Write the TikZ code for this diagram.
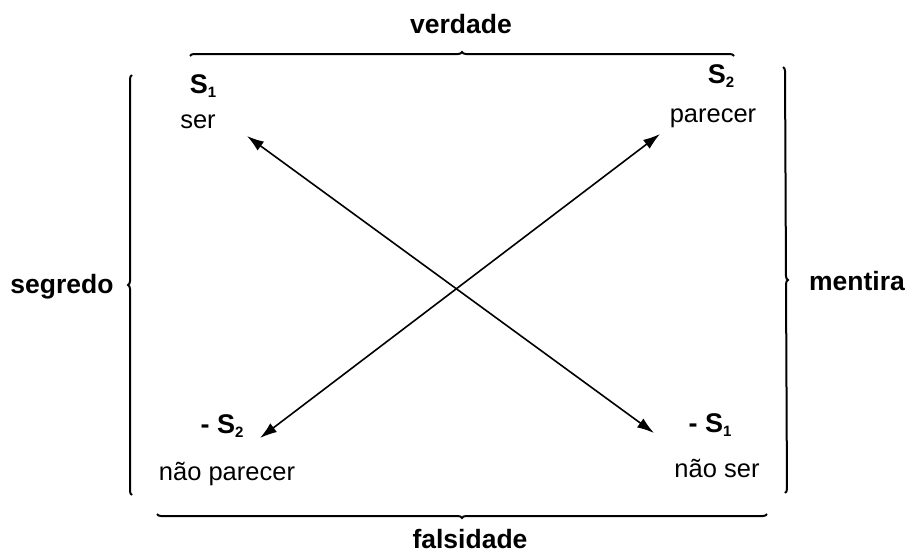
\documentclass[tikz,border=0pt]{standalone}
\usepackage{fontspec}
\setmainfont{Liberation Sans}
\usetikzlibrary{decorations.pathreplacing,arrows.meta}
\newcommand\symS[2]{\textbf{#1S}\raisebox{-0.3ex}{\fontsize{15}{15}\selectfont\bfseries #2}}
\begin{document}
\begin{tikzpicture}[x=1pt,y=-1pt,
  lab/.style={font=\fontsize{26.5}{30}\selectfont\bfseries, inner sep=0pt, anchor=base},
  term/.style={font=\fontsize{25.5}{30}\selectfont, inner sep=0pt, anchor=base},
  symb/.style={font=\fontsize{27}{30}\selectfont, inner sep=0pt, anchor=base},
  brc/.style={decorate, decoration={brace, amplitude=4pt, aspect=0.5}, line width=2pt},
  arr/.style={{Latex[length=17pt,width=11pt]}-{Latex[length=17pt,width=11pt]}, line width=1.6pt}]
\useasboundingbox (0,0) rectangle (906,555);
\fill[white] (0,0) rectangle (906,555);

% category labels
\node[lab] (verdade) at (461,33) {verdade};
\node[lab] (falsidade) at (470,548) {falsidade};
\node[lab] (segredo) at (62,293) {segredo};
\node[lab] (mentira) at (857,290) {mentira};

% terms
\node[symb] (s1) at (203,93) {\symS{}{1}};
\node[term] (ser) at (198,128) {ser};
\node[symb] (s2) at (721,83) {\symS{}{2}};
\node[term] (parecer) at (713,122) {parecer};
\node[symb] (ns2) at (222,433) {\symS{- }{2}};
\node[term] (naoparecer) at (227,480) {não parecer};
\node[symb] (ns1) at (710,432) {\symS{- }{1}};
\node[term] (naoser) at (717,477) {não ser};

% braces
\coordinate (tl) at (190,56);
\coordinate (tr) at (734,56);
\coordinate (bl) at (157,514);
\coordinate (br) at (767,514);
\coordinate (lt) at (132,75);
\coordinate (lb) at (132,495);
\coordinate (rt) at (783,67);
\coordinate (rb) at (785,493);
\draw[brc] (tl) -- (tr);
\draw[brc] (br) -- (bl);
\draw[brc] (lb) -- (lt);
\draw[brc] (rt) -- (rb);

% arrows
\coordinate (a1) at (247,136);
\coordinate (b1) at (654,433);
\coordinate (a2) at (260,438);
\coordinate (b2) at (660,134);
\draw[arr] (a1) -- (b1);
\draw[arr] (a2) -- (b2);
\end{tikzpicture}
\end{document}
